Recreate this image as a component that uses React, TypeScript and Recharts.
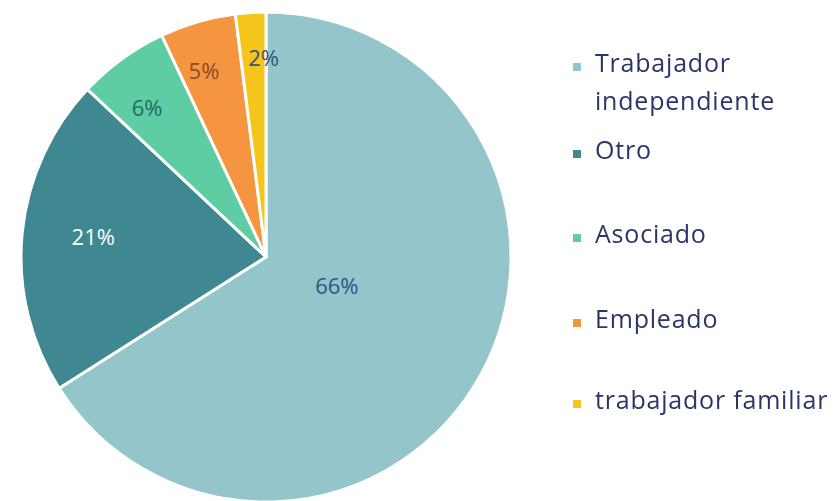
import { PieChart, Pie, Cell, Legend } from "recharts";

// --- datos ---
const categorias = ["Trabajador independiente", "Otro", "Asociado", "Empleado", "trabajador familiar"];
const porcentajes = [66, 21, 6, 5, 2];

// --- colores ---
const COLORES = ["#94C5CB", "#3F8891", "#5FCDA4", "#F5953F", "#F6C51C"];
const COLOR_ETIQUETA = ["#2E5684", "#FFFFFF", "#1F6A62", "#8A4A2C", "#34527E"];

const datos = categorias.map((nombre, i) => ({ nombre, valor: porcentajes[i] }));

const RAD = Math.PI / 180;
// distancia de cada etiqueta respecto al radio, y pequeños ajustes
const RADIO_ETIQUETA = [0.33, 0.7, 0.77, 0.79, 0.81];
const AJUSTE_X = [0, -2, -8, -8, 10];
const AJUSTE_Y = [-11, -5, 3, -1, -2];
const TOPS_LEYENDA = [43, 130, 214, 299, 380];

const renderEtiqueta = ({ cx, cy, midAngle, outerRadius, index, value }: any) => {
    const r = outerRadius * RADIO_ETIQUETA[index];
    const x = cx + r * Math.cos(-midAngle * RAD) + AJUSTE_X[index];
    const y = cy + r * Math.sin(-midAngle * RAD) + AJUSTE_Y[index];
    return (
        <text
            x={x}
            y={y}
            fill={COLOR_ETIQUETA[index]}
            textAnchor="middle"
            dominantBaseline="central"
            fontFamily="'Open Sans', sans-serif"
            fontSize={22}
        >
            {value}%
        </text>
    );
};

const LeyendaPersonalizada = () => (
    <div style={{ position: "relative", width: 266, height: 501, fontFamily: "'Open Sans', sans-serif" }}>
        {datos.map((d, i) => (
            <div
                key={d.nombre}
                style={{
                    position: "absolute",
                    top: TOPS_LEYENDA[i],
                    left: 0,
                    width: 270,
                    display: "flex",
                    alignItems: "flex-start",
                    fontSize: 25,
                    letterSpacing: 0.8,
                    lineHeight: "38px",
                    color: "#2B3567",
                    whiteSpace: "nowrap",
                }}
            >
                <div style={{ width: 8, height: 8, marginTop: 20, marginRight: 14, flexShrink: 0, backgroundColor: COLORES[i] }} />
                <span>
                    {i === 0 ? (<>Trabajador<br />independiente</>) : d.nombre}
                </span>
            </div>
        ))}
    </div>
);

export default function App() {
    return (
        <div style={{ position: "fixed", left: 0, top: 0, width: 836, height: 501, background: "#fff" }}>
            <PieChart width={836} height={501} margin={{ top: 0, right: 0, bottom: 0, left: 0 }}>
                <Pie
                    data={datos}
                    dataKey="valor"
                    nameKey="nombre"
                    cx={266}
                    cy={257}
                    outerRadius={245}
                    startAngle={90}
                    endAngle={-270}
                    stroke="#FFFFFF"
                    strokeWidth={3}
                    label={renderEtiqueta}
                    labelLine={false}
                    isAnimationActive={false}
                >
                    {datos.map((d, i) => (
                        <Cell key={d.nombre} fill={COLORES[i]} />
                    ))}
                </Pie>
                <Legend
                    content={<LeyendaPersonalizada />}
                    wrapperStyle={{ position: "absolute", left: 573, top: 0, width: 270, height: 501 }}
                />
            </PieChart>
        </div>
    );
}
